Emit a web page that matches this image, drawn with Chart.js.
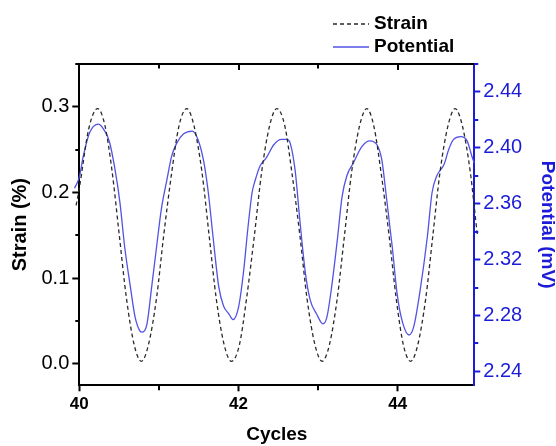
<!DOCTYPE html>
<html>
<head>
<meta charset="utf-8">
<script src="https://cdn.jsdelivr.net/npm/chart.js@4.4.0/dist/chart.umd.min.js"></script>
<style>
  html, body { margin: 0; padding: 0; background: #fff; }
</style>
</head>
<body>
<canvas id="strainChart" width="556" height="446"></canvas>
<script>
// strain (%)
const strainX = [39.96, 40.00, 40.12, 40.23, 40.32, 40.41, 40.50, 40.59, 40.69, 40.78,
  40.87, 40.97, 41.06, 41.16, 41.25, 41.35, 41.44, 41.54, 41.63, 41.72,
  41.82, 41.91, 42.01, 42.10, 42.20, 42.29, 42.39, 42.48, 42.58, 42.67,
  42.77, 42.86, 42.96, 43.05, 43.14, 43.24, 43.33, 43.42, 43.52, 43.61,
  43.70, 43.79, 43.89, 43.98, 44.07, 44.16, 44.25, 44.35, 44.44, 44.53,
  44.63, 44.72, 44.81, 44.91, 45.00, 45.02];
const strainY = [0.185, 0.205, 0.275, 0.298, 0.279, 0.226, 0.152, 0.078, 0.022, 0.003,
  0.023, 0.077, 0.150, 0.223, 0.277, 0.298, 0.278, 0.224, 0.150, 0.076,
  0.022, 0.003, 0.022, 0.076, 0.151, 0.224, 0.278, 0.298, 0.278, 0.223,
  0.150, 0.076, 0.022, 0.003, 0.022, 0.077, 0.150, 0.224, 0.278, 0.298,
  0.277, 0.223, 0.150, 0.076, 0.022, 0.003, 0.022, 0.076, 0.150, 0.224,
  0.278, 0.298, 0.278, 0.224, 0.150, 0.137];

// potential (mV)
const potX = [39.94, 40.00, 40.05, 40.13, 40.24, 40.32, 40.38, 40.45, 40.51, 40.57,
  40.64, 40.70, 40.76, 40.79, 40.85, 40.91, 40.97, 41.03, 41.10, 41.16,
  41.22, 41.31, 41.42, 41.49, 41.56, 41.62, 41.68, 41.75, 41.81, 41.88,
  41.93, 42.00, 42.06, 42.12, 42.17, 42.21, 42.27, 42.35, 42.44, 42.54,
  42.61, 42.65, 42.71, 42.77, 42.84, 42.90, 42.98, 43.06, 43.11, 43.17,
  43.24, 43.30, 43.36, 43.44, 43.55, 43.65, 43.74, 43.80, 43.86, 43.93,
  43.99, 44.05, 44.14, 44.20, 44.28, 44.37, 44.43, 44.49, 44.58, 44.64,
  44.70, 44.79, 44.87, 44.93, 44.96];
const potY = [2.371, 2.379, 2.394, 2.411, 2.417, 2.412, 2.404, 2.384, 2.361, 2.329,
  2.301, 2.279, 2.269, 2.268, 2.274, 2.301, 2.329, 2.356, 2.377, 2.394,
  2.403, 2.410, 2.412, 2.406, 2.391, 2.368, 2.336, 2.301, 2.287, 2.281,
  2.277, 2.286, 2.310, 2.344, 2.368, 2.377, 2.387, 2.393, 2.402, 2.406,
  2.406, 2.403, 2.384, 2.348, 2.310, 2.291, 2.281, 2.274, 2.279, 2.301,
  2.334, 2.365, 2.380, 2.389, 2.401, 2.405, 2.402, 2.391, 2.363, 2.329,
  2.296, 2.277, 2.266, 2.272, 2.298, 2.336, 2.368, 2.380, 2.388, 2.399,
  2.406, 2.408, 2.405, 2.394, 2.389];

// axis ranges and tick steps
const xRange = [40, 44.96];
const strainRange = [-0.025, 0.35];
const potRange = [2.23, 2.46];
const xStep = 1, xLabelStep = 2;
const strainStep = 0.05, strainLabelStep = 0.1;
const potStep = 0.02, potLabelStep = 0.04;

const AXIS_BLUE = '#1c1cd8';
const LINE_BLUE = '#5252e6';

Chart.defaults.font.family = '"Liberation Sans", Arial, sans-serif';
Chart.defaults.color = '#000';

function onStep(v, step) {
  const q = v / step;
  return Math.abs(q - Math.round(q)) < 1e-6;
}

// minor ticks are shorter, the top frame has inner ticks, legend is stacked top right
const frameTicks = {
  id: 'frameTicks',
  afterDraw(chart) {
    const { ctx, chartArea: a, scales } = chart;
    ctx.save();
    ctx.lineWidth = 2;
    ctx.strokeStyle = '#000';
    ctx.beginPath();
    ctx.moveTo(a.left - 1, a.top);
    ctx.lineTo(a.right + 1, a.top);
    ctx.stroke();

    scales.x.ticks.forEach(t => {
      const px = Math.round(scales.x.getPixelForValue(t.value));
      const major = onStep(t.value, xLabelStep);
      if (t.value > xRange[0]) {
        ctx.beginPath();
        ctx.moveTo(px, a.top);
        ctx.lineTo(px, a.top + (major ? 6 : 4.5));
        ctx.stroke();
      }
      if (!major) {
        ctx.beginPath();
        ctx.moveTo(px, a.bottom);
        ctx.lineTo(px, a.bottom + 5);
        ctx.stroke();
      }
    });

    scales.y.ticks.forEach(t => {
      if (onStep(t.value, strainLabelStep)) return;
      const py = Math.round(scales.y.getPixelForValue(t.value));
      ctx.beginPath();
      ctx.moveTo(a.left, py);
      ctx.lineTo(a.left - 4, py);
      ctx.stroke();
    });

    ctx.strokeStyle = AXIS_BLUE;
    scales.y1.ticks.forEach(t => {
      if (onStep(t.value, potLabelStep)) return;
      const py = Math.round(scales.y1.getPixelForValue(t.value));
      ctx.beginPath();
      ctx.moveTo(a.right, py);
      ctx.lineTo(a.right + 4, py);
      ctx.stroke();
    });

    // legend
    ctx.font = 'bold 19px "Liberation Sans", Arial, sans-serif';
    ctx.textBaseline = 'middle';
    chart.data.datasets.forEach((ds, i) => {
      const y = 24 + i * 23;
      ctx.strokeStyle = ds.borderColor;
      ctx.lineWidth = 1.4;
      ctx.setLineDash(ds.borderDash || []);
      ctx.beginPath();
      ctx.moveTo(333, y);
      ctx.lineTo(369, y);
      ctx.stroke();
      ctx.setLineDash([]);
      ctx.fillStyle = '#000';
      ctx.fillText(ds.label, 374, y);
    });
    ctx.restore();
  }
};

new Chart(document.getElementById('strainChart'), {
  type: 'line',
  data: {
    datasets: [
      {
        label: 'Strain',
        data: strainX.map((x, i) => ({ x, y: strainY[i] })),
        yAxisID: 'y',
        borderColor: '#2a2a2a',
        borderWidth: 1.3,
        borderDash: [4, 3],
        pointRadius: 0,
        cubicInterpolationMode: 'monotone',
        clip: 6
      },
      {
        label: 'Potential',
        data: potX.map((x, i) => ({ x, y: potY[i] })),
        yAxisID: 'y1',
        borderColor: LINE_BLUE,
        borderWidth: 1.3,
        pointRadius: 0,
        cubicInterpolationMode: 'monotone',
        clip: 6
      }
    ]
  },
  options: {
    responsive: false,
    animation: false,
    layout: { padding: { top: 64, left: 8, right: -3, bottom: 0 } },
    plugins: {
      legend: { display: false },
      tooltip: { enabled: false }
    },
    scales: {
      x: {
        type: 'linear',
        position: 'bottom',
        min: xRange[0],
        max: xRange[1],
        ticks: {
          stepSize: xStep,
          autoSkip: false,
          includeBounds: false,
          maxRotation: 0,
          padding: 3,
          font: { size: 17, weight: 'bold' },
          callback: v => onStep(v, xLabelStep) ? String(v) : ''
        },
        grid: {
          drawOnChartArea: false,
          tickLength: 6,
          tickWidth: 2,
          tickColor: c => onStep(c.tick.value, xLabelStep) ? '#000' : 'rgba(0,0,0,0)'
        },
        border: { color: '#000', width: 2 },
        title: {
          display: true,
          text: 'Cycles',
          font: { size: 19, weight: 'bold' },
          padding: { top: 5.5, bottom: 0 }
        }
      },
      y: {
        position: 'left',
        min: strainRange[0],
        max: strainRange[1],
        ticks: {
          stepSize: strainStep,
          includeBounds: false,
          autoSkip: false,
          padding: 3,
          font: { size: 20 },
          callback: v => onStep(v, strainLabelStep) ? v.toFixed(1) : ''
        },
        grid: {
          drawOnChartArea: false,
          tickLength: 7,
          tickWidth: 2,
          tickColor: c => onStep(c.tick.value, strainLabelStep) ? '#000' : 'rgba(0,0,0,0)'
        },
        border: { color: '#000', width: 2 },
        title: {
          display: true,
          text: 'Strain (%)',
          font: { size: 20, weight: 'bold' },
          padding: { top: 0, bottom: 6.5 }
        }
      },
      y1: {
        position: 'right',
        min: potRange[0],
        max: potRange[1],
        ticks: {
          stepSize: potStep,
          includeBounds: false,
          autoSkip: false,
          padding: 3,
          color: AXIS_BLUE,
          font: { size: 20 },
          callback: v => onStep(v, potLabelStep) ? v.toFixed(2) : ''
        },
        grid: {
          drawOnChartArea: false,
          tickLength: 6,
          tickWidth: 2,
          tickColor: c => onStep(c.tick.value, potLabelStep) ? AXIS_BLUE : 'rgba(0,0,0,0)'
        },
        border: { color: AXIS_BLUE, width: 2 },
        title: {
          display: true,
          text: 'Potential (mV)',
          color: AXIS_BLUE,
          font: { size: 19, weight: 'bold' },
          padding: { top: 0, bottom: 11 }
        }
      }
    }
  },
  plugins: [frameTicks]
});
</script>
</body>
</html>
